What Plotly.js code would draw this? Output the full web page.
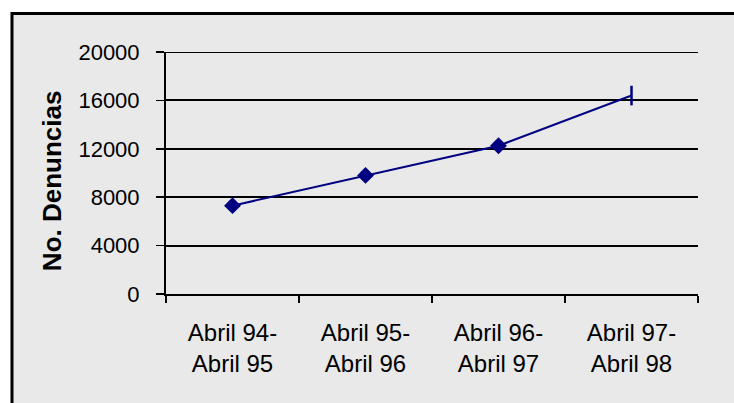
<!DOCTYPE html>
<html>
<head>
<meta charset="utf-8">
<script src="https://cdn.plot.ly/plotly-3.0.1.min.js"></script>
<style>
  html, body { margin: 0; padding: 0; background: #ffffff; }
  #chart { width: 734px; height: 403px; }
</style>
</head>
<body>
<div id="chart"></div>
<script>
const categories = ['Abril 94-<br>Abril 95', 'Abril 95-<br>Abril 96', 'Abril 96-<br>Abril 97', 'Abril 97-<br>Abril 98'];
const denuncias = [7300, 9800, 12250, 16400];
const yTicks = [0, 4000, 8000, 12000, 16000, 20000];
const yTitle = 'No. Denuncias';
const markerSymbols = ['diamond', 'diamond', 'diamond', 'line-ns'];
const markerSizes = [13, 13, 13, 14];
const markerLineWidths = [0, 0, 0, 2.5];

const trace = {
  x: categories,
  y: denuncias,
  type: 'scatter',
  mode: 'lines+markers',
  line: { color: '#000080', width: 2 },
  marker: {
    color: '#000080',
    opacity: 1,
    symbol: markerSymbols,
    size: markerSizes,
    line: { color: '#000080', width: markerLineWidths }
  },
  cliponaxis: false,
  hoverinfo: 'x+y'
};

const yMax = yTicks[yTicks.length - 1];

const layout = {
  width: 734,
  height: 403,
  margin: { l: 166, r: 36, t: 52, b: 109 },
  paper_bgcolor: '#ffffff',
  plot_bgcolor: 'rgba(0,0,0,0)',
  showlegend: false,
  font: { family: 'Liberation Sans, Arial, sans-serif', color: '#000000' },
  xaxis: {
    type: 'category',
    range: [-0.5, 3.5],
    tickson: 'boundaries',
    ticks: 'outside',
    ticklen: 7,
    tickwidth: 1.5,
    tickcolor: '#000000',
    showline: true,
    linecolor: '#000000',
    linewidth: 2,
    showgrid: false,
    zeroline: false,
    tickfont: { size: 24, color: '#000000' },
    ticklabelstandoff: 16,
    fixedrange: true
  },
  yaxis: {
    range: [0, yMax],
    tickvals: yTicks,
    ticktext: yTicks.map(String),
    ticks: 'outside',
    ticklen: 8,
    tickwidth: 1.5,
    tickcolor: '#000000',
    showline: true,
    linecolor: '#000000',
    linewidth: 2,
    showgrid: true,
    gridcolor: '#000000',
    gridwidth: 2,
    zeroline: false,
    tickfont: { size: 22, color: '#000000' },
    ticklabelstandoff: 12,
    fixedrange: true
  },
  annotations: [{
    text: yTitle,
    xref: 'paper', yref: 'paper',
    x: -0.214, y: 0.467,
    xanchor: 'center', yanchor: 'middle',
    textangle: -90,
    showarrow: false,
    font: { size: 26, color: '#000000', weight: 'bold', family: 'Liberation Sans, Arial, sans-serif' }
  }],
  shapes: [{
    type: 'rect',
    xref: 'paper', yref: 'paper',
    x0: -0.2895, x1: 1.08,
    y0: -0.48, y1: 1.159,
    fillcolor: '#e9e9e9',
    line: { color: '#000000', width: 3 },
    layer: 'below'
  }, {
    type: 'line',
    xref: 'paper', yref: 'y',
    x0: 0, x1: 1,
    y0: yMax, y1: yMax,
    line: { color: '#000000', width: 2 },
    layer: 'below'
  }]
};

Plotly.newPlot('chart', [trace], layout, { staticPlot: true, displayModeBar: false });
</script>
</body>
</html>
